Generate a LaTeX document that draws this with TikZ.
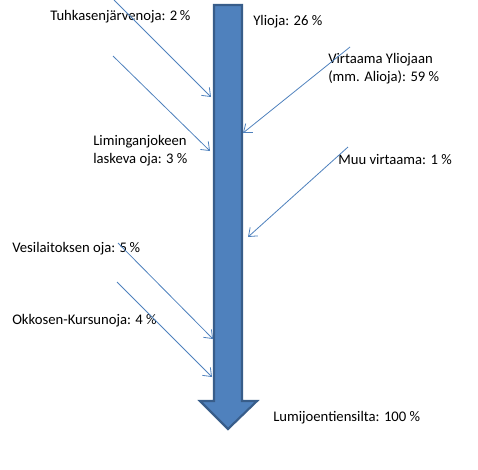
\documentclass[tikz,border=0pt]{standalone}
\usepackage{fontspec}
\setmainfont{Carlito}
\usetikzlibrary{arrows.meta}
\definecolor{accent}{HTML}{4F81BD}
\definecolor{accentdark}{HTML}{385D8A}
\tikzset{
  lbl/.style={anchor=west, inner sep=0pt, font=\fontsize{11pt}{13.5pt}\selectfont, align=left},
  flow/.style={draw=accent, line width=0.6pt, -{Straight Barb[length=5.5pt,width=8.5pt]}},
  bigarrow/.style={fill=accent, draw=accentdark, line width=1.6pt, line join=miter}
}
\begin{document}
\begin{tikzpicture}[x=0.75pt,y=-0.75pt]
\useasboundingbox (0,0) rectangle (478,469);
% main arrow
\draw[bigarrow] (214,5) -- (242,5) -- (242,401) -- (257,401) -- (228,429) -- (200,401) -- (214,401) -- cycle;
% labels
\node[lbl] (tuh) at (50,17) {Tuhkasenjärvenoja: 2\,\%};
\node[lbl] (yli) at (253,22) {Ylioja: 26 \%};
\node[lbl] (vir) at (328,69) {Virtaama Yliojaan\\(mm. Alioja): 59 \%};
\node[lbl] (lim) at (93,151) {Liminganjokeen\\laskeva oja: 3 \%};
\node[lbl] (muu) at (338,160) {Muu virtaama: 1 \%};
\node[lbl] (ves) at (12,249) {Vesilaitoksen oja: 5\,\%};
\node[lbl] (okk) at (12,321) {Okkosen-Kursunoja: 4 \%};
\node[lbl] (lum) at (273,418) {Lumijoentiensilta: 100 \%};
% flow coordinates
\coordinate (s1) at (114,0);   \coordinate (e1) at (211,97);
\coordinate (s2) at (113,56);  \coordinate (e2) at (210,151);
\coordinate (s3) at (350,47);  \coordinate (e3) at (243,133);
\coordinate (s4) at (348,147); \coordinate (e4) at (248,237);
\coordinate (s5) at (118,243); \coordinate (e5) at (213,339);
\coordinate (s6) at (117,282); \coordinate (e6) at (212,377);
\draw[flow] (s1) -- (e1);
\draw[flow] (s2) -- (e2);
\draw[flow] (s3) -- (e3);
\draw[flow] (s4) -- (e4);
\draw[flow] (s5) -- (e5);
\draw[flow] (s6) -- (e6);
\end{tikzpicture}
\end{document}
